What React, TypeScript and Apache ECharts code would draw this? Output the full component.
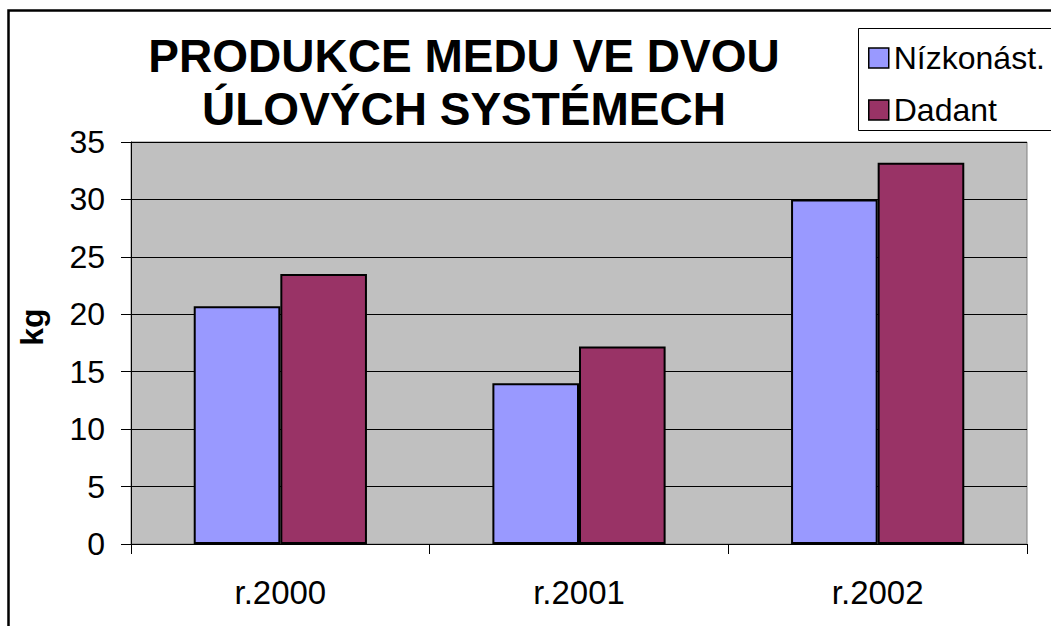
import React, { useEffect, useRef } from "react";
import * as echarts from "echarts";

const categories = ["r.2000", "r.2001", "r.2002"];
const seriesNames = ["Nízkonást.", "Dadant"];
const nizkonastValues = [20.7, 14.0, 30.0];
const dadantValues = [23.5, 17.2, 33.2];
const titleLines = ["PRODUKCE MEDU VE DVOU", "ÚLOVÝCH SYSTÉMECH"];
const yAxisName = "kg";

const FONT = "'Liberation Sans', Arial, Helvetica, sans-serif";

export default function App() {
  const ref = useRef<HTMLDivElement>(null);
  useEffect(() => {
    if (!ref.current) return;
    const chart = echarts.init(ref.current, undefined, { renderer: "svg" });
    chart.setOption({
      animation: false,
      backgroundColor: "#ffffff",
      textStyle: { fontFamily: FONT },
      title: {
        text: titleLines.join("\n"),
        left: 464,
        top: 29,
        padding: 0,
        textAlign: "center",
        textStyle: {
          fontFamily: FONT,
          fontSize: 46,
          fontWeight: "bold",
          color: "#000",
          lineHeight: 53,
        },
      },
      legend: {
        orient: "vertical",
        left: 858,
        top: 28,
        padding: [14, 0, 9, 10],
        borderWidth: 0,
        itemWidth: 20,
        itemHeight: 20,
        itemGap: 20,
        icon: "rect",
        itemStyle: { borderColor: "#000", borderWidth: 1.5 },
        textStyle: { fontFamily: FONT, fontSize: 32, color: "#000", lineHeight: 30 },
        data: seriesNames,
      },
      grid: {
        left: 131,
        top: 142,
        right: 24,
        bottom: 82,
        show: true,
        backgroundColor: "#C0C0C0",
        borderColor: "#808080",
        borderWidth: 1,
        containLabel: false,
      },
      xAxis: {
        type: "category",
        data: categories,
        axisLine: { show: true, lineStyle: { color: "#000", width: 1 } },
        axisTick: { show: true, length: 10, alignWithLabel: false, lineStyle: { color: "#000" } },
        axisLabel: { fontFamily: FONT, fontSize: 33, color: "#000", margin: 32 },
        splitLine: { show: false },
      },
      yAxis: {
        type: "value",
        min: 0,
        max: 35,
        interval: 5,
        axisLine: { show: true, lineStyle: { color: "#000", width: 1 } },
        axisTick: { show: true, length: 10, lineStyle: { color: "#000" } },
        axisLabel: { fontFamily: FONT, fontSize: 32, color: "#000", margin: 26 },
        splitLine: { show: true, lineStyle: { color: "#000", width: 1 } },
      },
      series: [
        {
          name: seriesNames[0],
          type: "bar",
          data: nizkonastValues,
          barGap: "0%",
          barCategoryGap: "42%",
          itemStyle: { color: "#9999FF", borderColor: "#000", borderWidth: 2 },
        },
        {
          name: seriesNames[1],
          type: "bar",
          data: dadantValues,
          barGap: "0%",
          barCategoryGap: "42%",
          itemStyle: { color: "#993366", borderColor: "#000", borderWidth: 2 },
        },
      ],
      graphic: [
        {
          type: "rect",
          shape: { x: 858.5, y: 28.5, width: 400, height: 102 },
          style: { fill: "#fff", stroke: "#000", lineWidth: 1 },
          z: -1,
          silent: true,
        },
        {
          type: "text",
          x: 32,
          y: 327,
          rotation: Math.PI / 2,
          style: {
            text: yAxisName,
            fontFamily: FONT,
            fontSize: 32,
            fontWeight: "bold",
            fill: "#000",
            align: "center",
            verticalAlign: "middle",
          },
        },
        {
          type: "rect",
          shape: { x: 8.5, y: 10.5, width: 1200, height: 800 },
          style: { fill: "none", stroke: "#000", lineWidth: 2.5 },
          z: 100,
          silent: true,
        },
      ],
    });
    return () => chart.dispose();
  }, []);
  return (
    <div
      ref={ref}
      style={{ position: "fixed", left: 0, top: 0, width: 1051, height: 626 }}
    />
  );
}
